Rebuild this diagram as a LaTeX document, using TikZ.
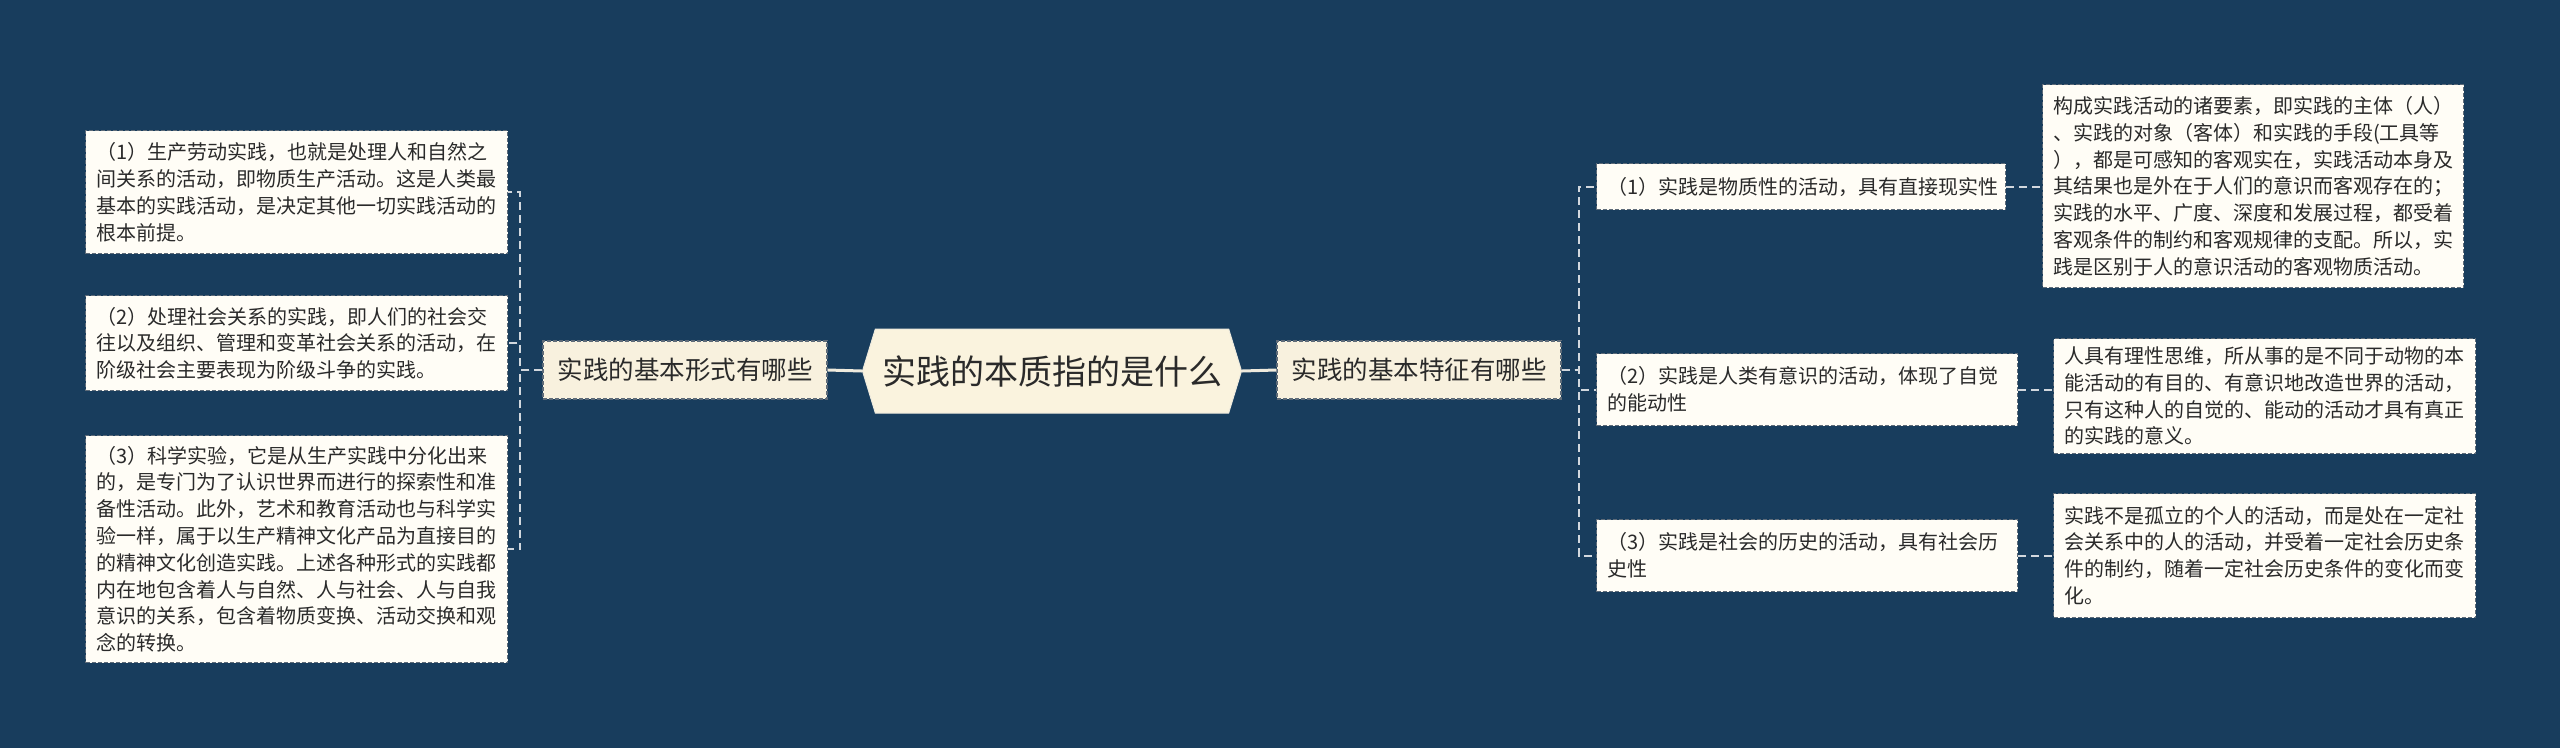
\documentclass[tikz,border=0pt]{standalone}
\usepackage{fontspec}
\setmainfont{Noto Sans CJK SC}
\usetikzlibrary{shapes.symbols}
\definecolor{bg}{HTML}{183D5D}
\definecolor{cfill}{HTML}{FAF3DE}
\definecolor{lonefill}{HTML}{F8F1DE}
\definecolor{leaffill}{HTML}{FFFDF6}
\definecolor{bordc}{HTML}{5E6B78}
\definecolor{txt}{HTML}{2A2A2A}
\definecolor{connc}{HTML}{D2D8DE}
\definecolor{mainc}{HTML}{EEEADD}
\newcommand\leaffont{\fontsize{20}{26.8}\selectfont}
\newcommand\lonefont{\fontsize{25.5}{30}\selectfont}
\newcommand\rootfont{\fontsize{34}{40}\selectfont}
\begin{document}
\begin{tikzpicture}[x=1pt,y=-1pt,
  leaf/.style={draw=bordc, fill=leaffill, dash pattern=on 4pt off 2pt, line width=1.2pt,
    anchor=north west, align=left, inner xsep=11pt, inner ysep=0pt, font=\leaffont, text=txt},
  lone/.style={draw=bordc, fill=lonefill, dash pattern=on 4pt off 2pt, line width=1.2pt,
    minimum width=284pt, minimum height=58pt, inner sep=0pt, font=\lonefont, text=txt},
  rootnode/.style={signal, signal to=west and east, signal pointer angle=146,
    fill=cfill, draw=mainc, line width=1pt, minimum width=379pt, minimum height=84pt,
    inner sep=0pt, font=\rootfont, text=txt},
  conn/.style={draw=connc, line width=2pt, dash pattern=on 8pt off 5pt},
  mainconn/.style={draw=mainc, line width=3pt}]
\fill[bg] (0,0) rectangle (2560,748);
\useasboundingbox (0,0) rectangle (2560,748);

% root and first level
\node[rootnode] (c) at (1052,371) {实践的本质指的是什么};
\node[lone] (lf) at (685,370) {实践的基本形式有哪些};
\node[lone] (rf) at (1419,370) {实践的基本特征有哪些};

% left leaves
\node[leaf, text width=400pt, minimum height=123pt] (la) at (85,130)
 {（1）生产劳动实践，也就是处理人和自然之\\间关系的活动，即物质生产活动。这是人类最\\基本的实践活动，是决定其他一切实践活动的\\根本前提。};
\node[leaf, text width=400pt, minimum height=95pt] (lb) at (85,295)
 {（2）处理社会关系的实践，即人们的社会交\\往以及组织、管理和变革社会关系的活动，在\\阶级社会主要表现为阶级斗争的实践。};
\node[leaf, text width=400pt, minimum height=227pt] (lc) at (85,435)
 {（3）科学实验，它是从生产实践中分化出来\\的，是专门为了认识世界而进行的探索性和准\\备性活动。此外，艺术和教育活动也与科学实\\验一样，属于以生产精神文化产品为直接目的\\的精神文化创造实践。上述各种形式的实践都\\内在地包含着人与自然、人与社会、人与自我\\意识的关系，包含着物质变换、活动交换和观\\念的转换。};

% right middle leaves
\node[leaf, text width=387pt, minimum height=46pt] (ma) at (1596,163)
 {（1）实践是物质性的活动，具有直接现实性};
\node[leaf, text width=399pt, minimum height=72pt] (mb) at (1596,353)
 {（2）实践是人类有意识的活动，体现了自觉\\的能动性};
\node[leaf, text width=399pt, minimum height=72pt] (mc) at (1596,519)
 {（3）实践是社会的历史的活动，具有社会历\\史性};

% far right leaves
\node[leaf, text width=400pt, inner xsep=10.5pt, minimum height=203pt] (ra) at (2042,84)
 {构成实践活动的诸要素，即实践的主体（人）\\、实践的对象（客体）和实践的手段(工具等\\），都是可感知的客观实在，实践活动本身及\\其结果也是外在于人们的意识而客观存在的；\\实践的水平、广度、深度和发展过程，都受着\\客观条件的制约和客观规律的支配。所以，实\\践是区别于人的意识活动的客观物质活动。};
\node[leaf, text width=400pt, minimum height=115pt] (rb) at (2053,338)
 {人具有理性思维，所从事的是不同于动物的本\\能活动的有目的、有意识地改造世界的活动，\\只有这种人的自觉的、能动的活动才具有真正\\的实践的意义。};
\node[leaf, text width=400pt, minimum height=124pt] (rc) at (2053,493)
 {实践不是孤立的个人的活动，而是处在一定社\\会关系中的人的活动，并受着一定社会历史条\\件的制约，随着一定社会历史条件的变化而变\\化。};

% connectors
\draw[mainconn] (c.west) -- (lf.east);
\draw[mainconn] (c.east) -- (rf.west);
\draw[conn] (lf.west) -- ++(-22,0) |- (la.east);
\draw[conn] (lf.west) -- ++(-22,0) |- (lb.east);
\draw[conn] (lf.west) -- ++(-22,0) |- (lc.east);
\draw[conn] (rf.east) -- ++(17,0) |- (ma.west);
\draw[conn] (rf.east) -- ++(17,0) |- (mb.west);
\draw[conn] (rf.east) -- ++(17,0) |- (mc.west);
\draw[conn] (ma.east) -- (ma.east -| ra.west);
\draw[conn] (mb.east) -- (mb.east -| rb.west);
\draw[conn] (mc.east) -- (mc.east -| rc.west);
\end{tikzpicture}
\end{document}
